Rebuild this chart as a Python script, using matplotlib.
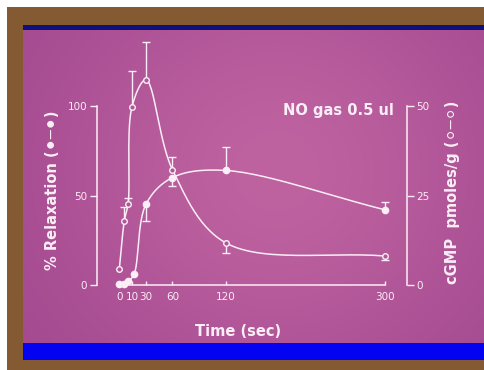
import numpy as np
import matplotlib

matplotlib.use("Agg")
import matplotlib.pyplot as plt
from matplotlib.patches import Rectangle

# values
relax_time = [0, 4, 7, 13, 30, 60, 120, 300]
relax_pct = [0.5, 0.8, 2, 6, 45, 60, 64, 42]
relax_err_lo = [0, 0, 0, 0, 9, 4.5, 0, 0]
relax_err_hi = [0, 0, 0, 0, 0, 0, 13, 4.3]

cgmp_time = [0, 4, 7, 10, 30, 60, 120, 300]
cgmp_pmol = [4.4, 18, 22.7, 49.8, 57.3, 32.2, 11.8, 8.1]
cgmp_err_lo = [0, 0, 0, 0, 0, 0, 3, 1.2]
cgmp_err_hi = [0, 3.7, 1.5, 10, 10.6, 3.6, 0, 0]

time_ticks = [0, 10, 30, 60, 120, 300]
relax_ticks = [0, 50, 100]
cgmp_ticks = [0, 25, 50]

W, H = 484, 370
FG = "#fbeef6"
PURPLE = "#b0589a"

# the slide stretches the first 10 s of the time axis
_T = [0, 10, 30, 300]
_U = [0, 14.3, 30, 300]


def fwd(t):
    return np.interp(t, _T, _U)


def inv(u):
    return np.interp(u, _U, _T)


def smooth(t, y, ypx, n=30):
    """Centripetal Catmull-Rom through the points, done in pixel space."""
    P = np.column_stack([fwd(np.asarray(t, float)) * 0.886, np.asarray(y, float) * ypx])
    P = np.vstack([2 * P[0] - P[1], P, 2 * P[-1] - P[-2]])
    out = []
    for i in range(len(P) - 3):
        p0, p1, p2, p3 = P[i:i + 4]
        t0 = 0.0
        t1 = t0 + np.hypot(*(p1 - p0)) ** 0.5
        t2 = t1 + np.hypot(*(p2 - p1)) ** 0.5
        t3 = t2 + np.hypot(*(p3 - p2)) ** 0.5
        s = np.linspace(t1, t2, n)[:, None]
        a1 = (t1 - s) / (t1 - t0) * p0 + (s - t0) / (t1 - t0) * p1
        a2 = (t2 - s) / (t2 - t1) * p1 + (s - t1) / (t2 - t1) * p2
        a3 = (t3 - s) / (t3 - t2) * p2 + (s - t2) / (t3 - t2) * p3
        b1 = (t2 - s) / (t2 - t0) * a1 + (s - t0) / (t2 - t0) * a2
        b2 = (t3 - s) / (t3 - t1) * a2 + (s - t1) / (t3 - t1) * a3
        out.append((t2 - s) / (t2 - t1) * b1 + (s - t1) / (t2 - t1) * b2)
    c = np.vstack(out)
    return inv(c[:, 0] / 0.886), c[:, 1] / ypx


def px_rect(x0, y0, x1, y1, color):
    fig.add_artist(Rectangle((x0 / W, 1 - y1 / H), (x1 - x0) / W, (y1 - y0) / H,
                             transform=fig.transFigure, color=color, lw=0, zorder=0))


def one_sided_err(ax, t, y, lo, hi):
    t, y, lo, hi = map(np.asarray, (t, y, lo, hi))
    m = (lo > 0) | (hi > 0)
    ends = y + hi - lo
    ax.vlines(t[m], y[m], ends[m], color=FG, lw=1.0, clip_on=False, zorder=3)
    ax.plot(t[m], ends[m], "_", ms=6, mew=1.0, color=FG, clip_on=False, zorder=3)


fig = plt.figure(figsize=(W / 100, H / 100), dpi=100, facecolor="white")
px_rect(7, 7, W, H, "#845a33")
px_rect(23, 25, W, 30, "#10107a")
px_rect(23, 343, W, 360, "#0303f2")

# slide background, lighter in the middle
bg = fig.add_axes([23 / W, 1 - 343 / H, (W - 23) / W, (343 - 30) / H])
gx, gy = np.meshgrid(np.linspace(0, 1, 200), np.linspace(0, 1, 150))
glow = np.exp(-((gx - 0.55) ** 2) / 0.25 - ((gy - 0.45) ** 2) / 0.5)
dark = np.array([160, 70, 142]) / 255
light = np.array([190, 98, 160]) / 255
bg.imshow(dark + (light - dark) * glow[..., None], aspect="auto", interpolation="bilinear")
bg.axis("off")

ax = fig.add_axes([119.3 / W, 1 - 285 / H, 265.7 / W, 179 / H])
ax.patch.set_visible(False)
ax.set_xscale("function", functions=(fwd, inv))
ax.set_xlim(0, 300)
ax.set_ylim(0, 100)
ax2 = ax.twinx()
ax2.set_ylim(0, 50)

for a in (ax, ax2):
    for sp in a.spines.values():
        sp.set_visible(False)
        sp.set_color(FG)
        sp.set_linewidth(1.1)
ax.spines["left"].set_visible(True)
ax.spines["left"].set_position(("outward", 16.3))
ax.spines["left"].set_bounds(0, 100)
ax.spines["bottom"].set_visible(True)
ax2.spines["right"].set_visible(True)
ax2.spines["right"].set_position(("outward", 15.8))
ax2.spines["right"].set_bounds(0, 50)

ax.set_xticks(time_ticks)
ax.set_xticklabels([str(v) for v in time_ticks])
ax.set_yticks(relax_ticks)
ax2.set_yticks(cgmp_ticks)
ax.tick_params(axis="x", direction="in", length=3, width=1, pad=5, colors=FG, labelsize=7.5)
ax.tick_params(axis="y", direction="out", length=5, width=1, pad=2, colors=FG, labelsize=7.5)
ax2.tick_params(axis="y", direction="out", length=5, width=1, pad=2, colors=FG, labelsize=7.5)
ax.minorticks_off()

# % relaxation, filled circles (left axis)
sx, sy = smooth(relax_time, relax_pct, 1.79)
ax.plot(sx, sy, color=FG, lw=1.1, clip_on=False, zorder=2)
one_sided_err(ax, relax_time, relax_pct, relax_err_lo, relax_err_hi)
ax.plot(relax_time, relax_pct, "o", ms=4.5, color=FG, clip_on=False, zorder=4)

# cGMP, open circles (right axis)
sx, sy = smooth(cgmp_time, cgmp_pmol, 3.56)
ax2.plot(sx, sy, color=FG, lw=1.1, clip_on=False, zorder=2)
one_sided_err(ax2, cgmp_time, cgmp_pmol, cgmp_err_lo, cgmp_err_hi)
ax2.plot(cgmp_time, cgmp_pmol, "o", ms=4, mfc=PURPLE, mec=FG, mew=1.0, clip_on=False, zorder=4)

fig.text(53 / W, 1 - 190 / H, "% Relaxation (\u26ab\u2500\u26ab)", rotation=90,
         ha="center", va="center", fontsize=10.5, fontweight="bold", color=FG)
fig.text(452 / W, 1 - 192 / H, "cGMP  pmoles/g (\u26aa\u2500\u26aa)", rotation=90,
         ha="center", va="center", fontsize=10.5, fontweight="bold", color=FG)
fig.text(338 / W, 1 - 110 / H, "NO gas 0.5 ul", ha="center", va="center",
         fontsize=10.5, fontweight="bold", color=FG)
fig.text(238 / W, 1 - 331 / H, "Time (sec)", ha="center", va="center",
         fontsize=10.5, fontweight="bold", color=FG)

fig.savefig("out.png", dpi=100)
plt.close(fig)
